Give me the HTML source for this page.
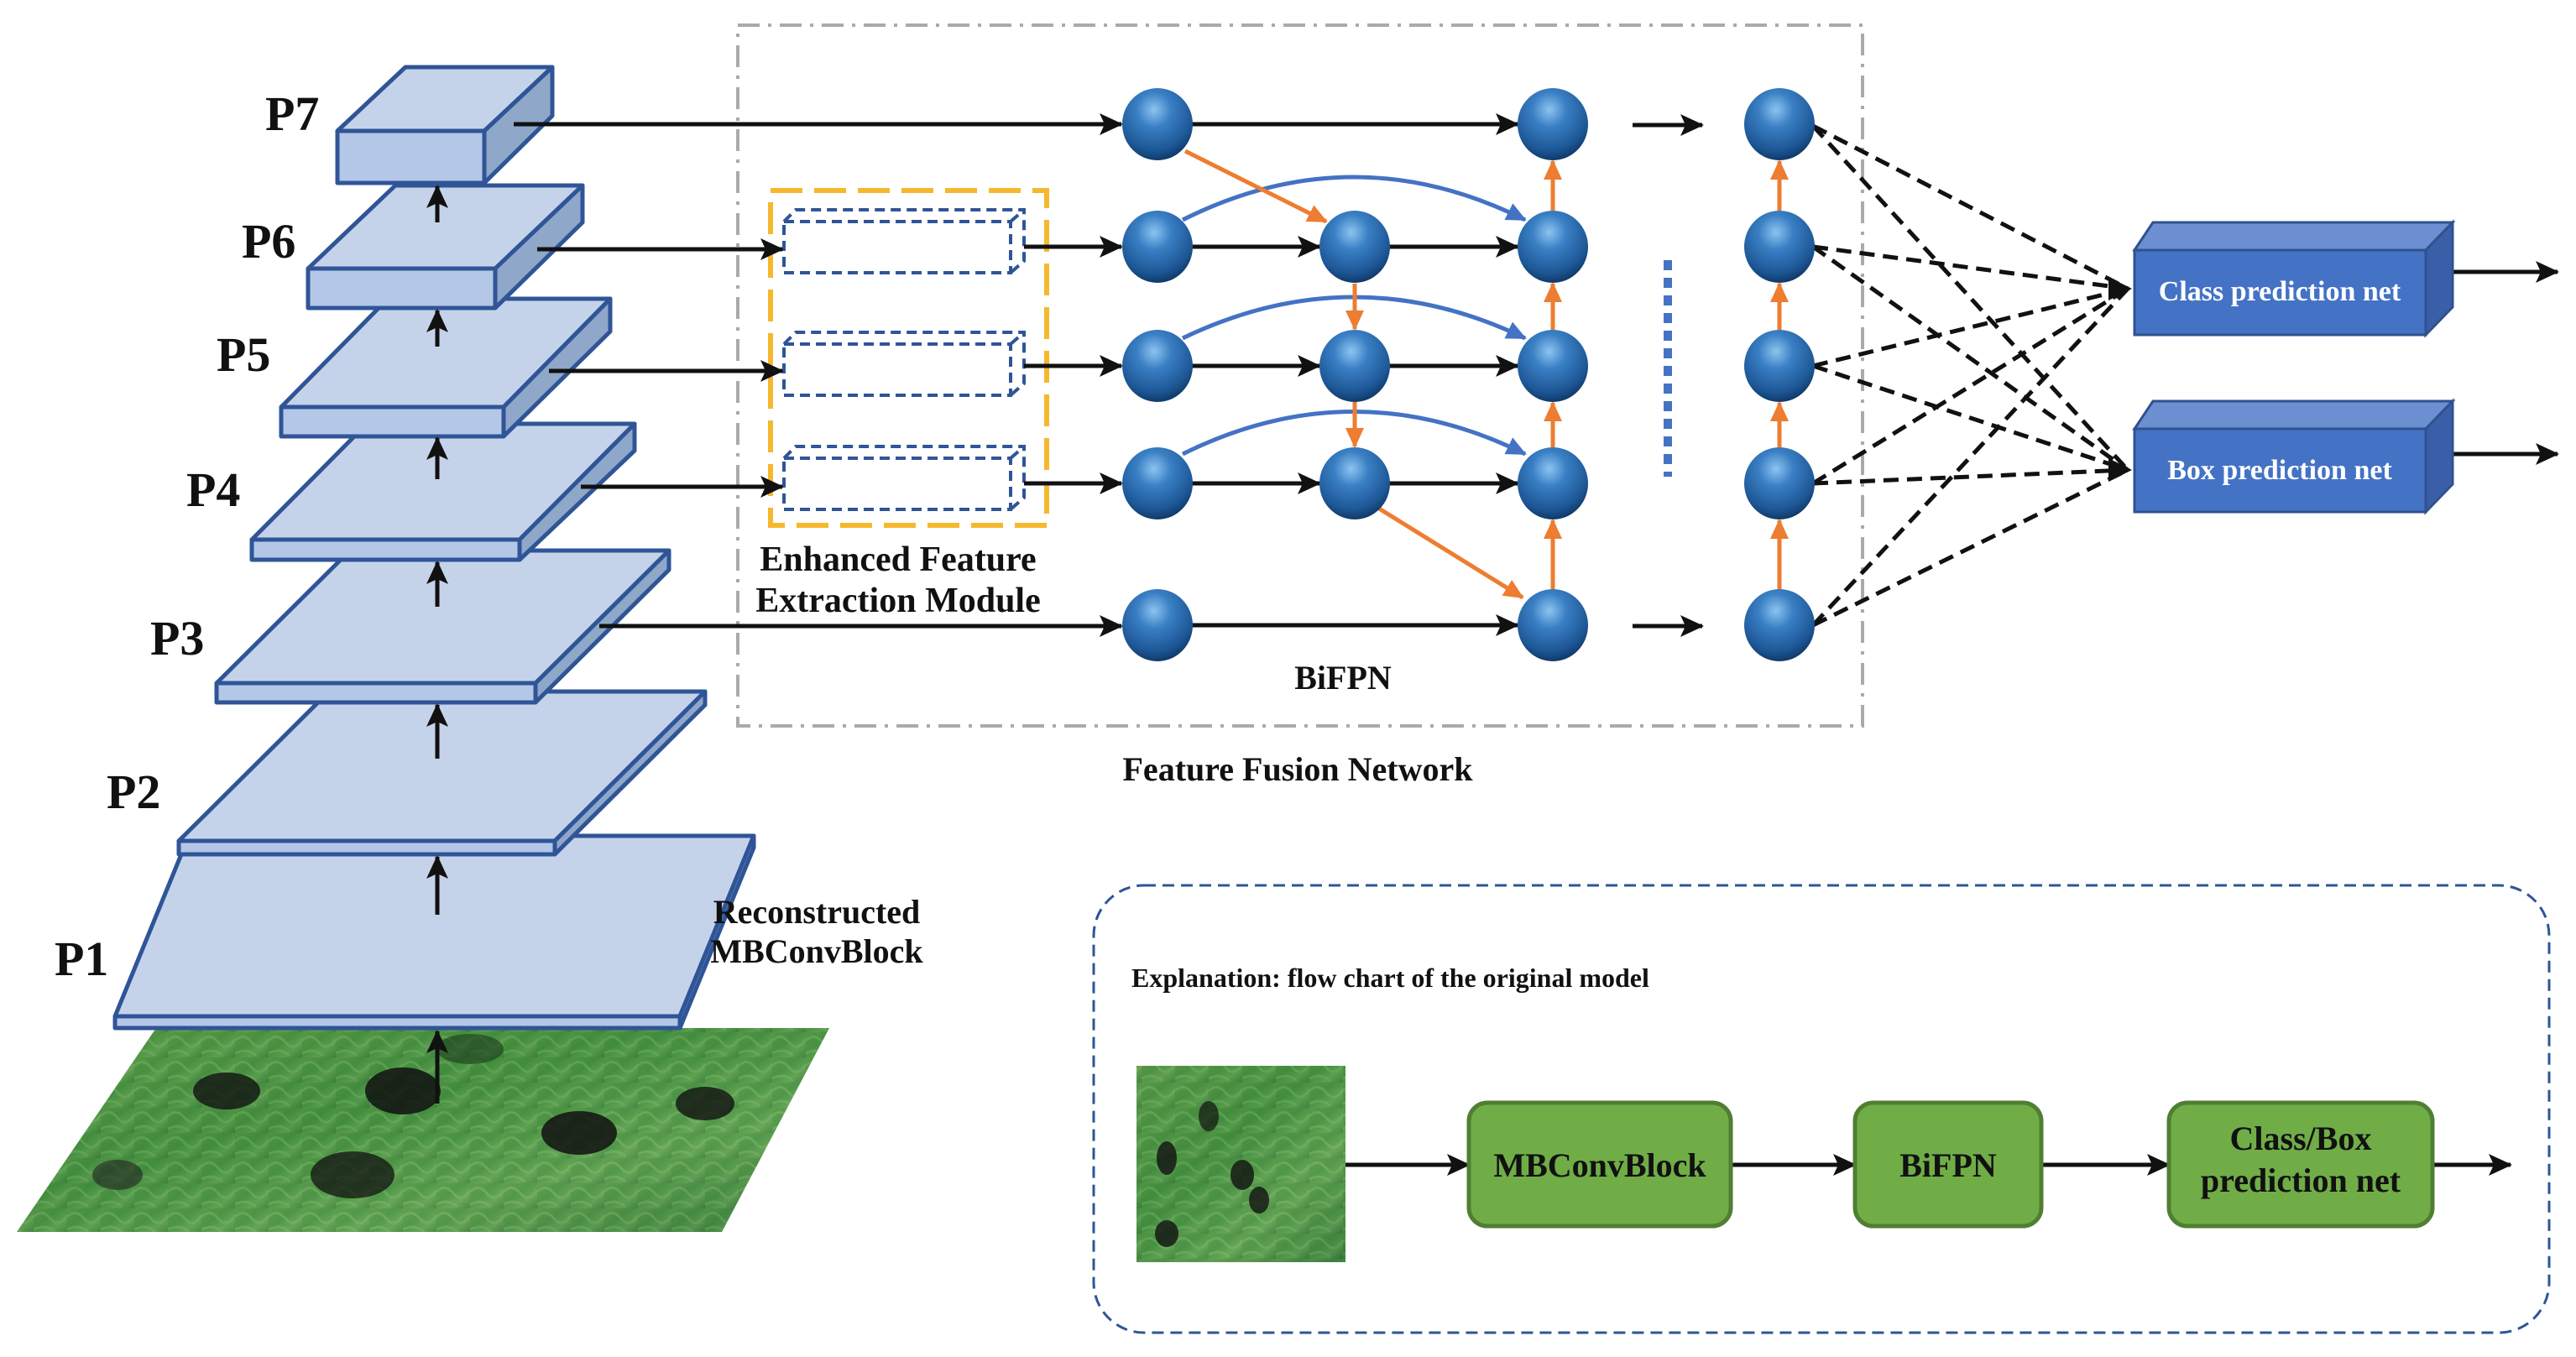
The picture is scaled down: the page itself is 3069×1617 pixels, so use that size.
<!DOCTYPE html>
<html><head><meta charset="utf-8"><style>
html,body{margin:0;padding:0;background:#fff}
svg{display:block}
text{font-family:"Liberation Serif",serif;font-weight:bold}
</style></head><body>
<svg width="3069" height="1617" viewBox="0 0 3069 1617" xmlns="http://www.w3.org/2000/svg">
<defs>
<marker id="ab" markerUnits="userSpaceOnUse" markerWidth="30" markerHeight="26" refX="26" refY="13" orient="auto"><path d="M0,0 L28,13 L0,26 L6,13 Z" fill="#111"/></marker>
<marker id="ao" markerUnits="userSpaceOnUse" markerWidth="26" markerHeight="22" refX="22" refY="11" orient="auto"><path d="M0,0 L24,11 L0,22 Z" fill="#ed7d31"/></marker>
<marker id="abl" markerUnits="userSpaceOnUse" markerWidth="26" markerHeight="22" refX="22" refY="11" orient="auto"><path d="M0,0 L24,11 L0,22 Z" fill="#4472c4"/></marker>
<radialGradient id="sph" cx="0.45" cy="0.3" r="0.7">
<stop offset="0" stop-color="#8cc4f0"/><stop offset="0.35" stop-color="#3a7fc4"/><stop offset="0.8" stop-color="#1d5796"/><stop offset="1" stop-color="#103a6a"/></radialGradient>
<linearGradient id="grn" x1="0" y1="0" x2="1" y2="1">
<stop offset="0" stop-color="#5f9a4a"/><stop offset="0.4" stop-color="#3f8a3c"/><stop offset="0.7" stop-color="#6aa85a"/><stop offset="1" stop-color="#2f6e35"/></linearGradient>
<pattern id="tex" width="40" height="30" patternUnits="userSpaceOnUse">
<rect width="40" height="30" fill="url(#grn)"/><path d="M0,10 Q10,0 20,12 T40,8 M0,25 Q15,18 25,28" stroke="#8cc47a" stroke-width="3" fill="none" opacity="0.6"/></pattern>
</defs>

<!-- seabed image -->
<polygon points="186,1225 988,1225 860,1468 20,1468" fill="url(#grn)"/>
<polygon points="186,1225 988,1225 860,1468 20,1468" fill="url(#tex)" opacity="0.5"/>
<ellipse cx="270" cy="1300" rx="40" ry="22" fill="#111" opacity="0.8"/>
<ellipse cx="480" cy="1300" rx="45" ry="28" fill="#111" opacity="0.85"/>
<ellipse cx="690" cy="1350" rx="45" ry="26" fill="#111" opacity="0.85"/>
<ellipse cx="840" cy="1315" rx="35" ry="20" fill="#111" opacity="0.8"/>
<ellipse cx="420" cy="1400" rx="50" ry="28" fill="#111" opacity="0.75"/>
<ellipse cx="140" cy="1400" rx="30" ry="18" fill="#222" opacity="0.6"/>
<ellipse cx="560" cy="1250" rx="40" ry="18" fill="#1a3a1a" opacity="0.6"/>

<!-- layers -->
<g stroke="#2f5597" stroke-width="5" stroke-linejoin="round">
<!-- P1 -->
<polygon points="137,1211 810,1211 898,996 225,996" fill="#c5d3ea"/>
<polygon points="137,1211 810,1211 810,1225 137,1225" fill="#b4c7e7"/>
<polygon points="810,1211 898,996 898,1010 810,1225" fill="#8fa7c8"/>
<!-- P2 -->
<polygon points="213,1002 661,1002 840,824 392,824" fill="#c5d3ea"/>
<polygon points="213,1002 661,1002 661,1018 213,1018" fill="#b4c7e7"/>
<polygon points="661,1002 840,824 840,840 661,1018" fill="#8fa7c8"/>
<!-- P3 -->
<polygon points="258,814 638,814 797,656 417,656" fill="#c5d3ea"/>
<polygon points="258,814 638,814 638,837 258,837" fill="#b4c7e7"/>
<polygon points="638,814 797,656 797,679 638,837" fill="#8fa7c8"/>
<!-- P4 -->
<polygon points="300,643 619,643 756,505 437,505" fill="#c5d3ea"/>
<polygon points="300,643 619,643 619,667 300,667" fill="#b4c7e7"/>
<polygon points="619,643 756,505 756,537 619,667" fill="#8fa7c8"/>
<!-- P5 -->
<polygon points="335,485 600,485 727,356 462,356" fill="#c5d3ea"/>
<polygon points="335,485 600,485 600,520 335,520" fill="#b4c7e7"/>
<polygon points="600,485 727,356 727,395 600,520" fill="#8fa7c8"/>
<!-- P6 -->
<polygon points="367,320 590,320 694,221 471,221" fill="#c5d3ea"/>
<polygon points="367,320 590,320 590,367 367,367" fill="#b4c7e7"/>
<polygon points="590,320 694,221 694,265 590,367" fill="#8fa7c8"/>
<!-- P7 -->
<polygon points="402,156 577,156 658,80 483,80" fill="#c5d3ea"/>
<polygon points="402,156 577,156 577,218 402,218" fill="#b4c7e7"/>
<polygon points="577,156 658,80 658,138 577,218" fill="#8fa7c8"/>
</g>

<!-- up arrows -->
<g stroke="#111" stroke-width="5" marker-end="url(#ab)">
<line x1="521" y1="265" x2="521" y2="222"/>
<line x1="521" y1="413" x2="521" y2="370"/>
<line x1="521" y1="571" x2="521" y2="522"/>
<line x1="521" y1="723" x2="521" y2="670"/>
<line x1="521" y1="904" x2="521" y2="840"/>
<line x1="521" y1="1090" x2="521" y2="1021"/>
<line x1="521" y1="1315" x2="521" y2="1229"/>
</g>

<!-- P labels -->
<g font-size="58" fill="#111">
<text x="316" y="155">P7</text>
<text x="288" y="307">P6</text>
<text x="258" y="442">P5</text>
<text x="222" y="603">P4</text>
<text x="179" y="780">P3</text>
<text x="127" y="963">P2</text>
<text x="65" y="1162">P1</text>
</g>
<text x="973" y="1100" font-size="40" text-anchor="middle" fill="#111">Reconstructed</text>
<text x="973" y="1147" font-size="40" text-anchor="middle" fill="#111">MBConvBlock</text>

<!-- gray dash-dot box -->
<rect x="879" y="30" width="1340" height="835" fill="none" stroke="#aaa" stroke-width="4" stroke-dasharray="26 10 4 10"/>
<text x="1546" y="930" font-size="40" text-anchor="middle" fill="#111">Feature Fusion Network</text>

<!-- orange box -->
<rect x="918" y="227" width="329" height="399" fill="none" stroke="#f5b82e" stroke-width="6" stroke-dasharray="38 14"/>
<g fill="none" stroke="#2f5597" stroke-width="4" stroke-dasharray="12 7">
<rect x="934" y="264" width="270" height="61"/><path d="M934,264 L948,250 L1220,250 L1220,311 L1204,325 M1204,264 L1220,250"/>
<rect x="934" y="410" width="270" height="61"/><path d="M934,410 L948,396 L1220,396 L1220,457 L1204,471 M1204,410 L1220,396"/>
<rect x="934" y="546" width="270" height="61"/><path d="M934,546 L948,532 L1220,532 L1220,593 L1204,607 M1204,546 L1220,532"/>
</g>
<text x="1070" y="680" font-size="42" text-anchor="middle" fill="#111">Enhanced Feature</text>
<text x="1070" y="729" font-size="42" text-anchor="middle" fill="#111">Extraction Module</text>

<!-- black connections -->
<g stroke="#111" stroke-width="5" marker-end="url(#ab)">
<line x1="612" y1="148" x2="1336" y2="148"/>
<line x1="640" y1="297" x2="932" y2="297"/>
<line x1="654" y1="442" x2="932" y2="442"/>
<line x1="692" y1="580" x2="932" y2="580"/>
<line x1="714" y1="746" x2="1336" y2="746"/>
<line x1="1220" y1="294" x2="1336" y2="294"/>
<line x1="1220" y1="436" x2="1336" y2="436"/>
<line x1="1220" y1="576" x2="1336" y2="576"/>
<line x1="1420" y1="148" x2="1808" y2="148"/>
<line x1="1420" y1="294" x2="1572" y2="294"/>
<line x1="1420" y1="436" x2="1572" y2="436"/>
<line x1="1420" y1="576" x2="1572" y2="576"/>
<line x1="1655" y1="294" x2="1808" y2="294"/>
<line x1="1655" y1="436" x2="1808" y2="436"/>
<line x1="1655" y1="576" x2="1808" y2="576"/>
<line x1="1420" y1="745" x2="1808" y2="745"/>
<line x1="1945" y1="149" x2="2028" y2="149"/>
<line x1="1945" y1="746" x2="2028" y2="746"/>
<line x1="2892" y1="324" x2="3047" y2="324"/>
<line x1="2892" y1="541" x2="3047" y2="541"/>
<line x1="1603" y1="1388" x2="1750" y2="1388"/>
<line x1="2062" y1="1388" x2="2210" y2="1388"/>
<line x1="2432" y1="1388" x2="2584" y2="1388"/>
<line x1="2898" y1="1388" x2="2991" y2="1388"/>
</g>

<!-- blue arcs -->
<g fill="none" stroke="#4472c4" stroke-width="5" marker-end="url(#abl)">
<path d="M1409,262 Q1613,160 1817,262"/>
<path d="M1409,403 Q1613,305 1817,403"/>
<path d="M1409,541 Q1613,440 1817,541"/>
</g>

<!-- orange arrows -->
<g stroke="#ed7d31" stroke-width="5" marker-end="url(#ao)">
<line x1="1412" y1="180" x2="1580" y2="264"/>
<line x1="1614" y1="338" x2="1614" y2="392"/>
<line x1="1614" y1="479" x2="1614" y2="532"/>
<line x1="1643" y1="606" x2="1814" y2="712"/>
<line x1="1850" y1="702" x2="1850" y2="620"/>
<line x1="1850" y1="533" x2="1850" y2="480"/>
<line x1="1850" y1="393" x2="1850" y2="338"/>
<line x1="1850" y1="251" x2="1850" y2="192"/>
<line x1="2120" y1="702" x2="2120" y2="620"/>
<line x1="2120" y1="533" x2="2120" y2="480"/>
<line x1="2120" y1="393" x2="2120" y2="338"/>
<line x1="2120" y1="251" x2="2120" y2="192"/>
</g>

<!-- dotted vertical -->
<line x1="1987" y1="310" x2="1987" y2="568" stroke="#4472c4" stroke-width="10" stroke-dasharray="12 9"/>

<!-- dashed to heads -->
<g stroke="#111" stroke-width="5" stroke-dasharray="18 10" fill="none">
<line x1="2160" y1="150" x2="2535" y2="344"/>
<line x1="2160" y1="294" x2="2535" y2="344"/>
<line x1="2160" y1="436" x2="2535" y2="344"/>
<line x1="2160" y1="576" x2="2535" y2="344"/>
<line x1="2160" y1="745" x2="2535" y2="344"/>
<line x1="2160" y1="150" x2="2535" y2="560"/>
<line x1="2160" y1="294" x2="2535" y2="560"/>
<line x1="2160" y1="436" x2="2535" y2="560"/>
<line x1="2160" y1="576" x2="2535" y2="560"/>
<line x1="2160" y1="745" x2="2535" y2="560"/>
</g>
<path d="M2512,330 L2540,344 L2512,358 Z" fill="#111"/>
<path d="M2512,546 L2540,560 L2512,574 Z" fill="#111"/>

<!-- nodes -->
<g fill="url(#sph)">
<ellipse cx="1379" cy="148" rx="42" ry="43"/><ellipse cx="1850" cy="148" rx="42" ry="43"/><ellipse cx="2120" cy="148" rx="42" ry="43"/>
<ellipse cx="1379" cy="294" rx="42" ry="43"/><ellipse cx="1614" cy="294" rx="42" ry="43"/><ellipse cx="1850" cy="294" rx="42" ry="43"/><ellipse cx="2120" cy="294" rx="42" ry="43"/>
<ellipse cx="1379" cy="436" rx="42" ry="43"/><ellipse cx="1614" cy="436" rx="42" ry="43"/><ellipse cx="1850" cy="436" rx="42" ry="43"/><ellipse cx="2120" cy="436" rx="42" ry="43"/>
<ellipse cx="1379" cy="576" rx="42" ry="43"/><ellipse cx="1614" cy="576" rx="42" ry="43"/><ellipse cx="1850" cy="576" rx="42" ry="43"/><ellipse cx="2120" cy="576" rx="42" ry="43"/>
<ellipse cx="1379" cy="745" rx="42" ry="43"/><ellipse cx="1850" cy="745" rx="42" ry="43"/><ellipse cx="2120" cy="745" rx="42" ry="43"/>
</g>
<text x="1600" y="821" font-size="40" text-anchor="middle" fill="#111">BiFPN</text>

<!-- prediction boxes -->
<g stroke="#2f528f" stroke-width="3">
<polygon points="2543,298 2565,265 2922,265 2890,298" fill="#6b8fd1"/>
<polygon points="2890,298 2922,265 2922,366 2890,399" fill="#3a5fa8"/>
<rect x="2543" y="298" width="347" height="101" fill="#4472c4"/>
<polygon points="2543,511 2565,478 2922,478 2890,511" fill="#6b8fd1"/>
<polygon points="2890,511 2922,478 2922,577 2890,610" fill="#3a5fa8"/>
<rect x="2543" y="511" width="347" height="99" fill="#4472c4"/>
</g>
<text x="2716" y="358" font-size="34" text-anchor="middle" fill="#fff">Class prediction net</text>
<text x="2716" y="571" font-size="34" text-anchor="middle" fill="#fff">Box prediction net</text>

<!-- explanation box -->
<rect x="1303" y="1055" width="1734" height="533" rx="60" fill="none" stroke="#2f5597" stroke-width="3" stroke-dasharray="14 8"/>
<text x="1348" y="1176" font-size="32" fill="#111">Explanation: flow chart of the original model</text>
<rect x="1354" y="1270" width="249" height="234" fill="url(#grn)"/>
<rect x="1354" y="1270" width="249" height="234" fill="url(#tex)" opacity="0.5"/>
<ellipse cx="1390" cy="1380" rx="12" ry="20" fill="#111" opacity="0.8"/>
<ellipse cx="1440" cy="1330" rx="12" ry="18" fill="#111" opacity="0.7"/>
<ellipse cx="1480" cy="1400" rx="14" ry="18" fill="#111" opacity="0.8"/>
<ellipse cx="1500" cy="1430" rx="12" ry="16" fill="#111" opacity="0.8"/>
<ellipse cx="1390" cy="1470" rx="14" ry="16" fill="#111" opacity="0.8"/>
<g fill="#70ad47" stroke="#507e32" stroke-width="5">
<rect x="1750" y="1314" width="312" height="147" rx="22"/>
<rect x="2210" y="1314" width="222" height="147" rx="22"/>
<rect x="2584" y="1314" width="314" height="147" rx="22"/>
</g>
<g font-size="40" fill="#111" text-anchor="middle">
<text x="1906" y="1402">MBConvBlock</text>
<text x="2321" y="1402">BiFPN</text>
<text x="2741" y="1370">Class/Box</text>
<text x="2741" y="1420">prediction net</text>
</g>
</svg>
</body></html>
